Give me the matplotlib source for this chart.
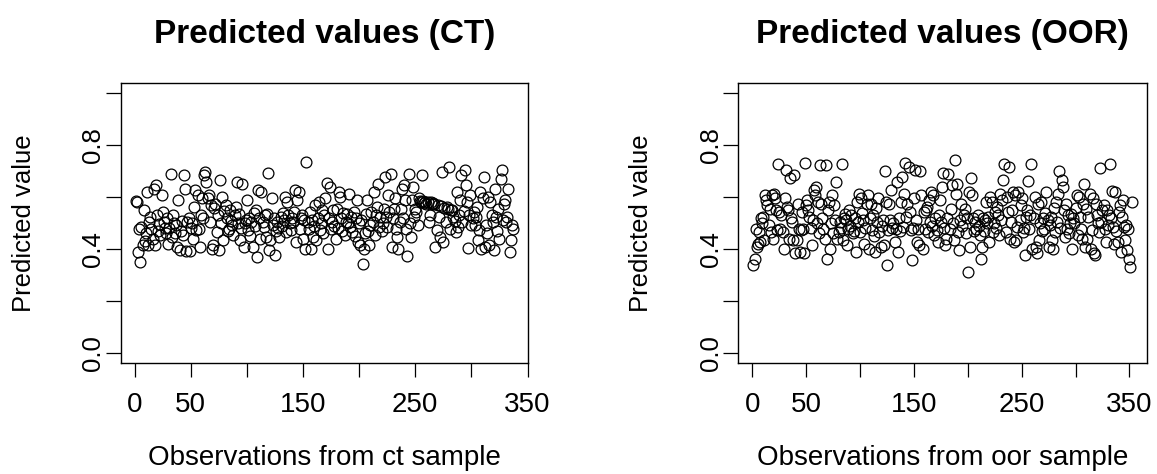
import numpy as np
import matplotlib
matplotlib.use("Agg")
import matplotlib.pyplot as plt

plt.rcParams['font.family'] = ['Liberation Sans', 'DejaVu Sans']

ct_values = [
    0.585, 0.580, 0.389, 0.478, 0.351, 0.486, 0.415, 0.550, 0.430, 0.462,
    0.620, 0.415, 0.505, 0.524, 0.479, 0.440, 0.633, 0.415, 0.646, 0.530,
    0.470, 0.498, 0.455, 0.608, 0.543, 0.505, 0.480, 0.462, 0.520, 0.421,
    0.480, 0.691, 0.447, 0.531, 0.500, 0.460, 0.492, 0.408, 0.588, 0.396,
    0.470, 0.510, 0.455, 0.685, 0.633, 0.393, 0.505, 0.520, 0.393, 0.480,
    0.500, 0.440, 0.563, 0.627, 0.473, 0.608, 0.479, 0.408, 0.530, 0.595,
    0.520, 0.685, 0.698, 0.660, 0.595, 0.608, 0.505, 0.569, 0.402, 0.415,
    0.560, 0.575, 0.466, 0.530, 0.396, 0.665, 0.499, 0.602, 0.434, 0.545,
    0.569, 0.518, 0.470, 0.479, 0.550, 0.510, 0.492, 0.455, 0.530, 0.563,
    0.659, 0.500, 0.537, 0.434, 0.480, 0.652, 0.408, 0.499, 0.511, 0.588,
    0.473, 0.520, 0.450, 0.505, 0.408, 0.540, 0.490, 0.550, 0.370, 0.627,
    0.518, 0.440, 0.620, 0.505, 0.486, 0.530, 0.447, 0.537, 0.695, 0.396,
    0.434, 0.597, 0.492, 0.518, 0.376, 0.470, 0.505, 0.480, 0.447, 0.524,
    0.490, 0.540, 0.511, 0.600, 0.465, 0.582, 0.530, 0.500, 0.473, 0.520,
    0.505, 0.544, 0.627, 0.428, 0.588, 0.620, 0.479, 0.518, 0.530, 0.440,
    0.511, 0.402, 0.736, 0.505, 0.479, 0.544, 0.402, 0.511, 0.447, 0.490,
    0.569, 0.434, 0.520, 0.582, 0.473, 0.500, 0.550, 0.460, 0.530, 0.595,
    0.655, 0.402, 0.518, 0.640, 0.479, 0.505, 0.550, 0.490, 0.440, 0.556,
    0.480, 0.620, 0.600, 0.518, 0.470, 0.540, 0.455, 0.505, 0.537, 0.500,
    0.614, 0.486, 0.525, 0.466, 0.544, 0.450, 0.520, 0.588, 0.428, 0.499,
    0.415, 0.511, 0.344, 0.402, 0.460, 0.537, 0.588, 0.470, 0.415, 0.492,
    0.544, 0.505, 0.620, 0.454, 0.530, 0.563, 0.652, 0.486, 0.524, 0.470,
    0.500, 0.556, 0.678, 0.525, 0.486, 0.608, 0.544, 0.691, 0.408, 0.518,
    0.556, 0.595, 0.479, 0.447, 0.402, 0.505, 0.556, 0.633, 0.520, 0.646,
    0.588, 0.479, 0.374, 0.691, 0.499, 0.447, 0.588, 0.640, 0.524, 0.555,
    0.544, 0.492, 0.595, 0.585, 0.580, 0.685, 0.585, 0.578, 0.580, 0.575,
    0.582, 0.505, 0.530, 0.580, 0.575, 0.578, 0.572, 0.408, 0.473, 0.570,
    0.524, 0.447, 0.565, 0.698, 0.428, 0.560, 0.505, 0.563, 0.555, 0.717,
    0.479, 0.552, 0.550, 0.524, 0.510, 0.466, 0.620, 0.486, 0.530, 0.588,
    0.685, 0.505, 0.545, 0.704, 0.646, 0.582, 0.405, 0.530, 0.608, 0.492,
    0.518, 0.544, 0.492, 0.524, 0.563, 0.434, 0.473, 0.620, 0.402, 0.595,
    0.679, 0.408, 0.492, 0.460, 0.600, 0.415, 0.582, 0.530, 0.505, 0.396,
    0.633, 0.524, 0.470, 0.556, 0.440, 0.669, 0.704, 0.511, 0.575, 0.588,
    0.505, 0.524, 0.633, 0.389, 0.434, 0.492, 0.479,
]

# Predicted values, OOR sample
oor_values = [
    0.338, 0.363, 0.479, 0.408, 0.421, 0.466, 0.428, 0.518, 0.499, 0.524,
    0.434, 0.608, 0.588, 0.569, 0.492, 0.556, 0.466, 0.608, 0.440, 0.614,
    0.595, 0.550, 0.473, 0.727, 0.544, 0.479, 0.530, 0.466, 0.402, 0.595,
    0.704, 0.563, 0.550, 0.440, 0.672, 0.520, 0.505, 0.434, 0.685, 0.383,
    0.434, 0.575, 0.479, 0.389, 0.473, 0.544, 0.479, 0.383, 0.730, 0.569,
    0.588, 0.550, 0.524, 0.480, 0.415, 0.511, 0.627, 0.608, 0.640, 0.500,
    0.582, 0.462, 0.723, 0.575, 0.520, 0.479, 0.440, 0.723, 0.363, 0.550,
    0.582, 0.402, 0.499, 0.608, 0.460, 0.569, 0.511, 0.659, 0.440, 0.466,
    0.505, 0.480, 0.727, 0.434, 0.520, 0.537, 0.511, 0.415, 0.479, 0.550,
    0.490, 0.530, 0.460, 0.470, 0.518, 0.389, 0.582, 0.505, 0.614, 0.466,
    0.595, 0.540, 0.511, 0.421, 0.480, 0.575, 0.608, 0.402, 0.518, 0.575,
    0.473, 0.530, 0.450, 0.389, 0.560, 0.505, 0.595, 0.466, 0.408, 0.490,
    0.511, 0.415, 0.700, 0.582, 0.338, 0.473, 0.575, 0.511, 0.627, 0.480,
    0.499, 0.428, 0.479, 0.659, 0.389, 0.520, 0.470, 0.582, 0.678, 0.486,
    0.614, 0.730, 0.524, 0.575, 0.717, 0.544, 0.473, 0.357, 0.480, 0.595,
    0.704, 0.511, 0.428, 0.479, 0.415, 0.700, 0.608, 0.402, 0.544, 0.479,
    0.550, 0.563, 0.466, 0.588, 0.505, 0.620, 0.490, 0.608, 0.455, 0.518,
    0.473, 0.428, 0.530, 0.588, 0.505, 0.640, 0.695, 0.480, 0.415, 0.440,
    0.520, 0.691, 0.479, 0.556, 0.646, 0.500, 0.434, 0.743, 0.614, 0.652,
    0.466, 0.396, 0.511, 0.575, 0.490, 0.530, 0.556, 0.460, 0.520, 0.312,
    0.620, 0.408, 0.674, 0.608, 0.518, 0.470, 0.505, 0.479, 0.530, 0.490,
    0.454, 0.363, 0.408, 0.520, 0.470, 0.511, 0.582, 0.500, 0.524, 0.428,
    0.600, 0.582, 0.466, 0.500, 0.544, 0.480, 0.563, 0.530, 0.455, 0.614,
    0.511, 0.588, 0.665, 0.727, 0.466, 0.600, 0.544, 0.717, 0.440, 0.505,
    0.550, 0.620, 0.428, 0.608, 0.434, 0.486, 0.620, 0.511, 0.569, 0.595,
    0.466, 0.480, 0.376, 0.524, 0.550, 0.662, 0.479, 0.530, 0.727, 0.402,
    0.520, 0.600, 0.408, 0.383, 0.575, 0.434, 0.500, 0.582, 0.470, 0.518,
    0.479, 0.540, 0.620, 0.511, 0.408, 0.492, 0.524, 0.434, 0.402, 0.560,
    0.466, 0.582, 0.505, 0.614, 0.700, 0.480, 0.665, 0.640, 0.550, 0.447,
    0.575, 0.479, 0.530, 0.460, 0.500, 0.537, 0.402, 0.518, 0.499, 0.560,
    0.608, 0.454, 0.600, 0.524, 0.479, 0.440, 0.575, 0.649, 0.408, 0.556,
    0.440, 0.524, 0.614, 0.402, 0.473, 0.595, 0.383, 0.376, 0.575, 0.530,
    0.499, 0.466, 0.711, 0.505, 0.550, 0.569, 0.479, 0.428, 0.550, 0.492,
    0.530, 0.726, 0.518, 0.623, 0.486, 0.421, 0.620, 0.470, 0.428, 0.544,
    0.569, 0.389, 0.524, 0.588, 0.486, 0.434, 0.492, 0.396, 0.479, 0.363,
    0.331, 0.582,
]

panels = [
    ("Predicted values (CT)", "Observations from ct sample", ct_values),
    ("Predicted values (OOR)", "Observations from oor sample", oor_values),
]

x_ticks = [0, 50, 100, 150, 200, 250, 300, 350]
x_ticklabels = ["0", "50", "", "150", "", "250", "", "350"]
y_ticks = [0.0, 0.2, 0.4, 0.6, 0.8, 1.0]
y_ticklabels = ["0.0", "", "0.4", "", "0.8", ""]

W, H = 1157, 474
fig = plt.figure(figsize=(W / 100, H / 100), dpi=100)

# axes boxes in pixels: left, right, top, bottom
boxes = [(120.7, 528.0, 83.0, 363.2), (738.3, 1146.7, 83.0, 363.2)]
fs_v = 18.5   # rotated text
fs_h = 20     # horizontal text

for (title, xlabel, vals), (l, r, t, b) in zip(panels, boxes):
    ax = fig.add_axes([l / W, 1 - b / H, (r - l) / W, (b - t) / H])
    x = np.arange(1, len(vals) + 1)
    ax.plot(x, vals, linestyle="none", marker="o", ms=7.8, mfc="none",
            mec="black", mew=0.9)
    pad = 0.04 * (len(vals) - 1)
    ax.set_xlim(1 - pad, len(vals) + pad)
    ax.set_ylim(-0.04, 1.04)

    ax.set_xticks(x_ticks)
    ax.set_xticklabels(x_ticklabels, fontsize=fs_h)
    ax.set_yticks(y_ticks)
    ax.set_yticklabels(y_ticklabels, fontsize=fs_v, rotation=90, va="center")
    ax.tick_params(axis="x", length=10, width=0.9, pad=11)
    ax.tick_params(axis="y", length=10.5, width=0.9, pad=0.5)
    for s in ax.spines.values():
        s.set_linewidth(1.0)

    cx = (l + r) / 2
    fig.text(cx / W, 1 - 34 / H, title, ha="center", va="center",
             fontsize=24, fontweight="bold")
    fig.text(cx / W, 1 - 458 / H, xlabel, ha="center", va="center",
             fontsize=fs_h)
    fig.text((l - 97) / W, 1 - (t + b) / 2 / H, "Predicted value",
             ha="center", va="center", rotation=90, fontsize=fs_v)

fig.savefig("out.png", dpi=100)
